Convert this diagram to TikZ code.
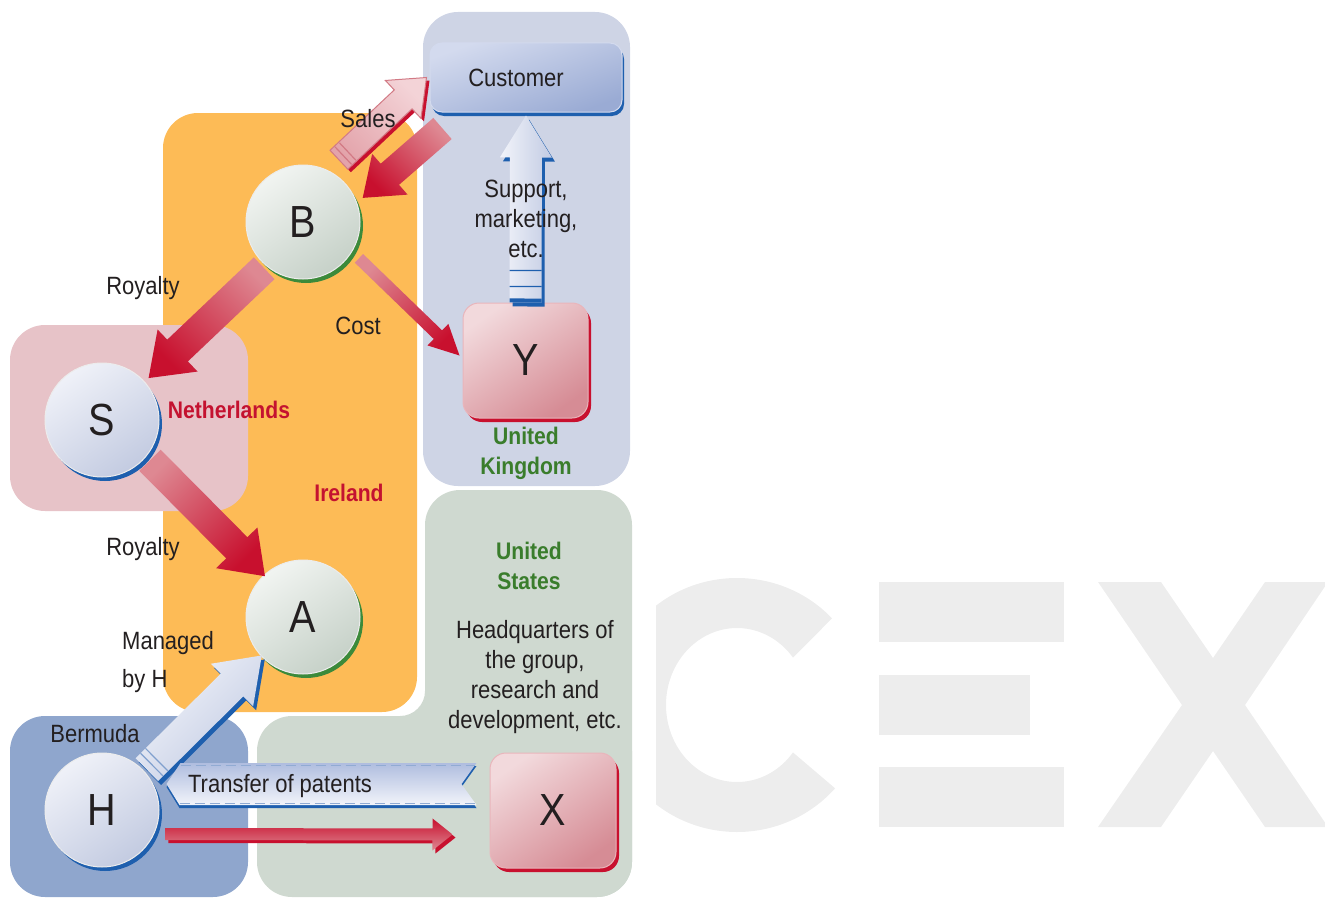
\documentclass[tikz,border=0pt]{standalone}
\usepackage{fontspec}
\setmainfont[FakeStretch=0.88]{Liberation Sans}
\usetikzlibrary{calc,shadows}

\definecolor{orangebg}{HTML}{FDBB56}
\definecolor{ukbg}{HTML}{CED4E5}
\definecolor{usbg}{HTML}{CFD9D0}
\definecolor{nlbg}{HTML}{E7C3C8}
\definecolor{bmbg}{HTML}{8FA6CD}
\definecolor{txt}{HTML}{231F20}
\definecolor{lblred}{HTML}{C41230}
\definecolor{lblgreen}{HTML}{3A7D2C}
\definecolor{wmark}{HTML}{EDEDED}
\definecolor{darkred}{HTML}{C8102E}
\definecolor{lightred}{HTML}{DE8892}
\definecolor{shblue}{HTML}{1E5FAE}
\definecolor{shgreen}{HTML}{3C8A3A}
\definecolor{shred}{HTML}{C8102E}
\definecolor{cgreenA}{HTML}{F1F4F1}
\definecolor{cgreenB}{HTML}{C6D1C8}
\definecolor{cblueA}{HTML}{EFF1F8}
\definecolor{cblueB}{HTML}{C3CBE1}
\definecolor{pinkA}{HTML}{F2D9DC}
\definecolor{pinkB}{HTML}{D68C95}
\definecolor{pinkE}{HTML}{E9B5BB}
\definecolor{custA}{HTML}{D3DAEE}
\definecolor{custB}{HTML}{9AABD4}
\definecolor{lbA}{HTML}{F2F4FA}
\definecolor{lbB}{HTML}{C2CBE3}
\definecolor{bannerA}{HTML}{AFBDDF}
\definecolor{salesA}{HTML}{F3D3D7}
\definecolor{salesB}{HTML}{E3A3AA}
\definecolor{salesE}{HTML}{D27A85}

\newcommand\blockarr[6]{%
  \coordinate (tmph) at ($(#2)!#5!(#1)$);
  \path[#6] ($(#1)!#3!90:(#2)$) -- ($(tmph)!#3!-90:(#1)$) -- ($(tmph)!#4!-90:(#1)$) -- (#2)
    -- ($(tmph)!#4!90:(#1)$) -- ($(tmph)!#3!90:(#1)$) -- ($(#1)!#3!-90:(#2)$) -- cycle;}
\newcommand\collar[5]{%
  \coordinate (tmpc) at ($(#1)!#3!(#2)$);
  \draw[#5] ($(tmpc)!#4!90:(#2)$) -- ($(tmpc)!#4!-90:(#2)$);}

\tikzset{
  region/.style={rounded corners=35pt},
  circnode/.style={circle, minimum size=114pt, inner sep=0pt, text=txt,
    font=\fontsize{45}{54}\selectfont, draw=white!85!gray, line width=1pt},
  greencirc/.style={circnode, top color=cgreenA, bottom color=cgreenB, shading angle=35,
    general shadow={fill=shgreen, shadow xshift=3pt, shadow yshift=-4pt}},
  bluecirc/.style={circnode, top color=cblueA, bottom color=cblueB, shading angle=35,
    general shadow={fill=shblue, shadow xshift=3pt, shadow yshift=-4pt}},
  pinkbox/.style={rectangle, rounded corners=16pt, minimum width=125pt, minimum height=115pt,
    inner sep=0pt, text=txt, font=\fontsize{45}{54}\selectfont, top color=pinkA, bottom color=pinkB,
    shading angle=35, draw=pinkE, line width=1pt,
    general shadow={fill=shred, shadow xshift=3pt, shadow yshift=-4pt}},
  custbox/.style={rectangle, rounded corners=12pt, minimum width=192pt, minimum height=69pt,
    inner sep=0pt, text=txt, font=\fontsize{25}{30}\selectfont, top color=custA, bottom color=custB,
    shading angle=20, draw=custA, line width=1pt,
    general shadow={fill=shblue, shadow xshift=2pt, shadow yshift=-4pt}},
  lbl/.style={text=txt, font=\fontsize{25}{30}\selectfont, align=center, inner sep=0pt},
  country/.style={font=\bfseries\fontsize{24}{30}\selectfont, align=center, inner sep=0pt},
  redarr/.style={top color=lightred, bottom color=darkred, shading angle=#1},
  lbarr/.style={top color=lbA, bottom color=lbB, shading angle=#1},
  bshadow/.style={fill=shblue, transform canvas={xshift=3pt,yshift=-4pt}},
  rshadow/.style={fill=darkred, transform canvas={xshift=3pt,yshift=-3pt}},
  collarline/.style={draw=#1, line width=1.2pt},
}

\begin{document}
\begin{tikzpicture}[x=1pt,y=-1pt]
\useasboundingbox (0,0) rectangle (1325,899);

% watermark
\begin{scope}
  \clip (656,0) rectangle (1325,899);
  \fill[wmark] ($(737,705)+(-43:130 and 127)$) arc[start angle=-43,end angle=-319,x radius=130,y radius=127]
    -- ($(737,705)+(-322:71 and 77)$) arc[start angle=-322,end angle=-38,x radius=71,y radius=77] -- cycle;
  \fill[wmark] (879,582) rectangle (1064,642);
  \fill[wmark] (879,675) rectangle (1030,735);
  \fill[wmark] (879,767) rectangle (1064,827);
  \fill[wmark] (1098,582) -- (1161,582) -- (1213,658) -- (1265,582) -- (1328,582) -- (1245,705)
    -- (1328,827) -- (1265,827) -- (1213,751) -- (1161,827) -- (1098,827) -- (1182,705) -- cycle;
\end{scope}

% regions
\fill[orangebg, region] (163,113) rectangle (417,712);
\fill[ukbg, region] (423,12) rectangle (630,486);
\fill[usbg, region] (425,490) rectangle (632,897);
\fill[usbg, region] (257,716) rectangle (632,897);
\fill[usbg] (425,716) -- (425,691) arc[start angle=0,end angle=90,radius=25] -- cycle;
\fill[nlbg, region] (10,325) rectangle (248,511);
\fill[bmbg, region] (10,716) rectangle (248,897);

% nodes
\node[custbox] (Customer) at (526,77.5) {Customer\hspace*{20pt}};
\node[greencirc] (B) at (303,222) {B};
\node[bluecirc] (S) at (102,420) {S};
\node[greencirc] (A) at (303,617) {A};
\node[bluecirc] (H) at (102,810) {H};
\node[pinkbox] (Y) at (525.5,360.5) {Y};
\node[pinkbox, minimum width=126pt] (X) at (553,810.5) {X};

% connector end points
\coordinate (salesT) at ($(B)!1.25!(B.60)$);
\coordinate (salesH) at ($(Customer.west)+(-3,0)$);
\coordinate (retT) at ($(Customer.south west)+(13,16)$);
\coordinate (retH) at ($(B)!1.12!(B.22)$);
\coordinate (r1T) at ($(B)!1.05!(B.230)$);
\coordinate (r1H) at ($(S)!1.09!(S.42)$);
\coordinate (r2T) at ($(S)!1.09!(S.-40)$);
\coordinate (r2H) at ($(A)!0.97!(A.133)$);
\coordinate (costT) at ($(B)!1.16!(B.-33)$);
\coordinate (costH) at ($(Y.west)+(-3,-5)$);
\coordinate (supT) at (Y.north);
\coordinate (supH) at ($(Customer.south)+(0,3)$);
\coordinate (manT) at ($(H)!1.05!(H.42)$);
\coordinate (manH) at ($(A)!0.98!(A.223)$);
\coordinate (pL) at ($(H.east)+(7,-26)$);
\coordinate (pR) at ($(X.west)+(-13,-26.5)$);
\coordinate (hxT) at ($(H.east)+(6,24)$);
\coordinate (hxH) at ($(X.west)+(-37,24)$);

% arrows
\blockarr{salesT}{salesH}{13pt}{26pt}{32pt}{rshadow}
\blockarr{salesT}{salesH}{13pt}{26pt}{32pt}{top color=salesA, bottom color=salesB, shading angle=-45, draw=salesE, line width=1pt}
\collar{salesT}{salesH}{6pt}{12pt}{collarline=salesE}
\collar{salesT}{salesH}{12pt}{12pt}{collarline=salesE}
\blockarr{retT}{retH}{14pt}{27pt}{36pt}{redarr=-45}
\blockarr{r1T}{r1H}{15pt}{29pt}{40pt}{redarr=-45}
\blockarr{r2T}{r2H}{15pt}{29pt}{40pt}{redarr=45}
\blockarr{costT}{costH}{6pt}{15pt}{30pt}{redarr=45}
\blockarr{supT}{supH}{16pt}{26pt}{42pt}{bshadow}
\blockarr{supT}{supH}{16pt}{26pt}{42pt}{lbarr=90}
\collar{supT}{supH}{2pt}{16pt}{collarline=shblue, line width=4pt}
\collar{supT}{supH}{16pt}{16pt}{collarline=shblue}
\collar{supT}{supH}{32pt}{16pt}{collarline=shblue}
\blockarr{manT}{manH}{16pt}{30pt}{42pt}{bshadow}
\blockarr{manT}{manH}{16pt}{30pt}{42pt}{lbarr=45}
\collar{manT}{manH}{7pt}{16pt}{collarline=lbB!60!shblue}
\collar{manT}{manH}{14pt}{16pt}{collarline=lbB!60!shblue}
\blockarr{hxT}{hxH}{6pt}{16pt}{20pt}{rshadow}
\blockarr{hxT}{hxH}{6pt}{16pt}{20pt}{top color=darkred, bottom color=lightred}

% transfer of patents banner
\fill[shblue] ($(pL)+(14,-18)$) -- ($(pR)+(0,-18)$) -- ($(pR)+(-15,3)$) -- ($(pR)+(0,24)$)
  -- ($(pL)+(13,24)$) -- ($(pL)+(0,3)$) -- cycle;
\path[top color=bannerA, bottom color=lbA] ($(pL)+(14,-21)$) -- ($(pR)+(0,-21)$) -- ($(pR)+(-15,0)$)
  -- ($(pR)+(0,21)$) -- ($(pL)+(13,21)$) -- (pL) -- cycle;
\draw[lbB!70!shblue, dash pattern=on 10pt off 5pt, line width=1pt]
  ($(pL)+(14,-19)$) -- ($(pR)+(-2,-19)$) ($(pL)+(13,19)$) -- ($(pR)+(-2,19)$);

% labels
\node[lbl] (lsales) at (368,119) {Sales};
\node[lbl] (lsup) at (526,219) {Support,\\marketing,\\etc.};
\node[lbl] (lroy1) at (143,288) {Royalty};
\node[lbl] (lcost) at (358,326) {Cost};
\node[country, text=lblred] (lnl) at (229,410) {Netherlands};
\node[country, text=lblred] (lie) at (349,493) {Ireland};
\node[country, text=lblgreen] (luk) at (526,453) {United\\Kingdom};
\node[lbl] (lroy2) at (143,549) {Royalty};
\node[country, text=lblgreen] (lus) at (529,566) {United\\States};
\node[lbl] (lhq) at (535,677) {Headquarters of\\the group,\\research and\\development, etc.};
\node[lbl, anchor=west, align=left] (lman) at (122,662) {Managed\\[8pt]by H};
\node[lbl] (lbm) at (95,734) {Bermuda};
\node[lbl] (lpat) at (280,786) {Transfer of patents};
\end{tikzpicture}
\end{document}
